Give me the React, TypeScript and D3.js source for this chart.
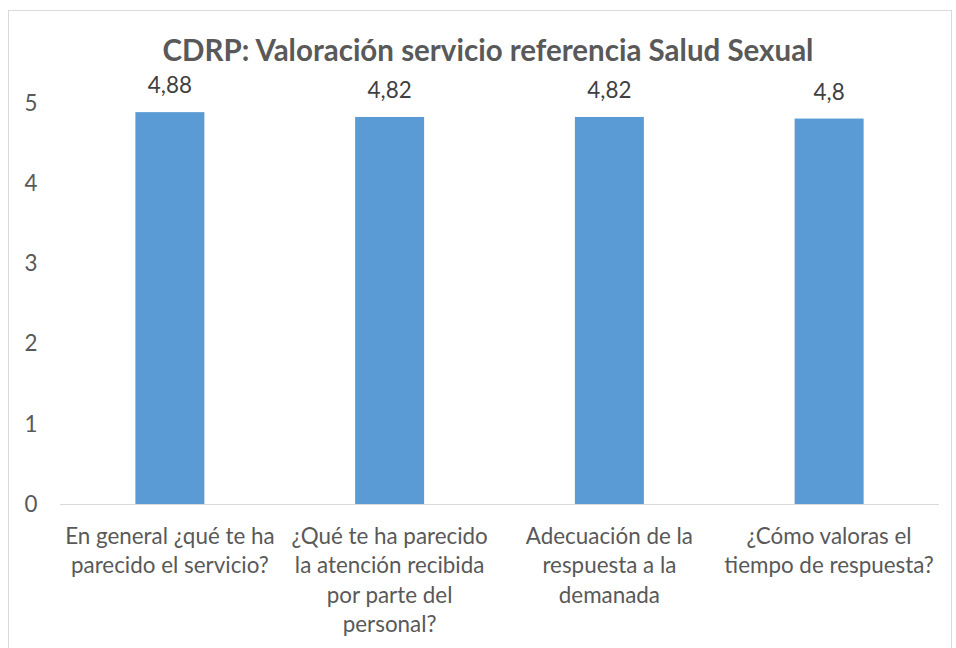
import { useEffect, useRef } from 'react'
import * as d3 from 'd3'

const W = 956, H = 648
const FONT = 'Lato, "Noto Sans", sans-serif'

const TITLE = 'CDRP: Valoración servicio referencia Salud Sexual'
const categories = [
  ['En general ¿qué te ha', 'parecido el servicio?'],
  ['¿Qué te ha parecido', 'la atención recibida', 'por parte del', 'personal?'],
  ['Adecuación de la', 'respuesta a la', 'demanada'],
  ['¿Cómo valoras el', 'tiempo de respuesta?'],
]
const values = [4.88, 4.82, 4.82, 4.8]
const valueLabels = ['4,88', '4,82', '4,82', '4,8']
const yTicks = [0, 1, 2, 3, 4, 5]

const M = { left: 60, right: 939, top: 102.5, bottom: 504 }

export default function App() {
  const ref = useRef<SVGSVGElement>(null)

  useEffect(() => {
    if (!ref.current) return
    const svg = d3.select(ref.current)
    svg.selectAll('*').remove()

    const x = d3.scaleBand<number>()
      .domain(d3.range(values.length))
      .range([M.left, M.right])
    const y = d3.scaleLinear().domain([0, 5]).range([M.bottom, M.top])
    const barW = x.bandwidth() * 0.314

    // chart frame
    svg.append('rect')
      .attr('x', 8.5).attr('y', 10.5)
      .attr('width', 943).attr('height', 660)
      .attr('fill', '#fff').attr('stroke', '#d9d9d9').attr('stroke-width', 1)

    // title
    svg.append('text')
      .attr('x', 488).attr('y', 61)
      .attr('text-anchor', 'middle')
      .attr('font-family', FONT).attr('font-weight', 700).attr('font-size', 29.5)
      .attr('fill', '#595959')
      .text(TITLE)

    // y tick labels
    svg.append('g').selectAll('text')
      .data(yTicks).join('text')
      .attr('x', 31).attr('y', d => y(d) + 8)
      .attr('text-anchor', 'middle')
      .attr('font-family', FONT).attr('font-size', 22.4)
      .attr('fill', '#595959')
      .text(d => d)

    // bars
    svg.append('g').selectAll('rect')
      .data(values).join('rect')
      .attr('x', (_, i) => x(i)! + (x.bandwidth() - barW) / 2)
      .attr('y', d => y(d))
      .attr('width', barW)
      .attr('height', d => y(0) - y(d))
      .attr('fill', '#5b9bd5')

    // baseline
    svg.append('line')
      .attr('x1', M.left).attr('x2', M.right)
      .attr('y1', M.bottom + 0.5).attr('y2', M.bottom + 0.5)
      .attr('stroke', '#d9d9d9').attr('stroke-width', 1)

    // value labels
    svg.append('g').selectAll('text')
      .data(values).join('text')
      .attr('x', (_, i) => x(i)! + x.bandwidth() / 2)
      .attr('y', d => y(d) - 19)
      .attr('text-anchor', 'middle')
      .attr('font-family', FONT).attr('font-size', 22.4)
      .attr('fill', '#404040')
      .text((_, i) => valueLabels[i])

    // category labels
    const cat = svg.append('g').selectAll('text')
      .data(categories).join('text')
      .attr('x', (_, i) => x(i)! + x.bandwidth() / 2)
      .attr('y', 544)
      .attr('text-anchor', 'middle')
      .attr('font-family', FONT).attr('font-size', 22.4)
      .attr('fill', '#595959')
    cat.selectAll('tspan')
      .data(d => d).join('tspan')
      .attr('x', function () { return (this.parentNode as SVGTextElement).getAttribute('x') })
      .attr('dy', (_, j) => (j === 0 ? 0 : 29.4))
      .text(d => d)
  }, [])

  return (
    <svg ref={ref} width={W} height={H}
      style={{ position: 'absolute', left: 0, top: 0, display: 'block' }} />
  )
}
